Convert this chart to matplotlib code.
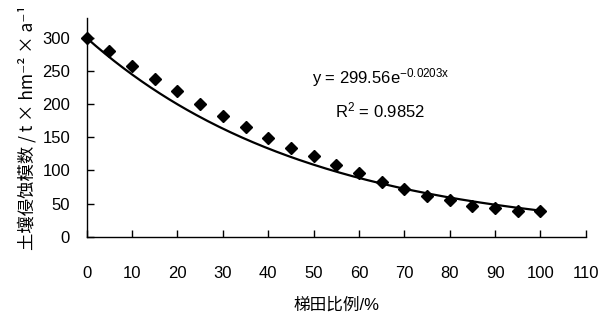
import numpy as np
import matplotlib
matplotlib.use("Agg")
import matplotlib.pyplot as plt

plt.rcParams['font.family'] = ['Liberation Sans', 'Noto Sans CJK SC', 'DejaVu Sans']
plt.rcParams['mathtext.fontset'] = 'custom'
plt.rcParams['mathtext.rm'] = 'Liberation Sans'
plt.rcParams['mathtext.it'] = 'Liberation Sans'

# terrace ratio (%) and soil erosion modulus
terrace_pct = [0, 5, 10, 15, 20, 25, 30, 35, 40, 45, 50,
               55, 60, 65, 70, 75, 80, 85, 90, 95, 100]
erosion = [300, 280, 258, 238, 219, 200, 182, 165, 149, 134, 121,
           108, 96, 83, 72, 62, 56, 47, 43, 39, 39]

# exponential trendline shown on the chart
fit_a = 299.56
fit_b = -0.0203
x_ticks = list(range(0, 111, 10))
y_ticks = list(range(0, 301, 50))

fig = plt.figure(figsize=(6.09, 3.20), dpi=100)
ax = fig.add_axes([0.1424, 0.2603, 0.8196, 0.684])

xs = np.linspace(0, 100, 200)
ax.plot(xs, fit_a * np.exp(fit_b * xs), color='black', lw=1.6, zorder=2)
ax.plot(terrace_pct, erosion, linestyle='none', marker='D', ms=6,
        color='black', zorder=3, clip_on=False)

ax.set_xlim(0, 110)
ax.set_ylim(0, 330)
ax.set_xticks(x_ticks)
ax.set_yticks(y_ticks)
ax.tick_params(axis='both', direction='in', length=5, width=1,
               labelsize=12, colors='black')
ax.tick_params(axis='x', pad=21)
ax.tick_params(axis='y', pad=12)
for s in ['top', 'right']:
    ax.spines[s].set_visible(False)
for s in ['left', 'bottom']:
    ax.spines[s].set_linewidth(1)

ax.set_xlabel('梯田比例/%', fontsize=12, labelpad=12,
              family=['Liberation Sans', 'Noto Sans CJK SC'])
ax.set_ylabel('土壤侵蚀模数 / t × hm⁻² × a⁻¹', fontsize=12.5, labelpad=4,
              family=['Noto Sans CJK SC', 'DejaVu Sans'])

ax.text(49.7, 240, r'y = 299.56e$^{\mathregular{-0.0203x}}$', fontsize=12,
        ha='left', va='center')
ax.text(54.8, 191, r'R$^{\mathregular{2}}$ = 0.9852', fontsize=12,
        ha='left', va='center')

fig.savefig('out.png', dpi=100)
